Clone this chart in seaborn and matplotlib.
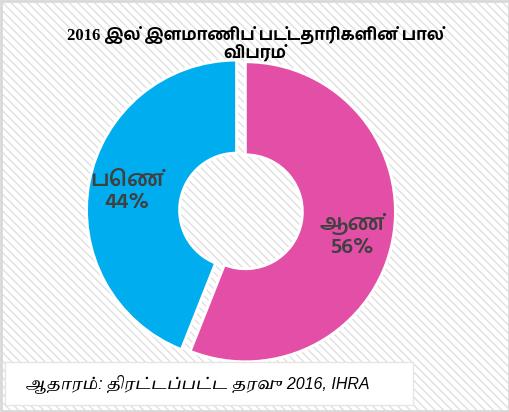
import matplotlib
matplotlib.use("Agg")
import matplotlib.pyplot as plt
from matplotlib.patches import Rectangle
import seaborn as sns

# data
labels = ["ஆண்", "பெண்"]
shares = [56, 44]
colors = ["#e34fa6", "#00aeef"]
title = "2016 இல் இளமாணிப் பட்டதாரிகளின் பால்\nவிபரம்"
source = "ஆதாரம்: திரட்டப்பட்ட தரவு 2016, IHRA"

sns.set_theme(style="white")
plt.rcParams['font.family'] = ['Hind Madurai', 'DejaVu Sans']

fig = plt.figure(figsize=(5.10, 4.12), dpi=100)

# hatched background
bg = Rectangle((0, 0), 1, 1, transform=fig.transFigure, facecolor="white",
               edgecolor="#e0e0e0", hatch="\\\\\\\\", linewidth=0, zorder=-2)
fig.patches.append(bg)
frame = Rectangle((0.002, 0.002), 0.996, 0.996, transform=fig.transFigure,
                  facecolor="none", edgecolor="#d9d9d9", linewidth=2, zorder=5)
fig.patches.append(frame)

ax = fig.add_axes([0.149, 0.0875, 0.647, 0.801])
ax.set_facecolor("none")
wedges, _ = ax.pie(shares, colors=colors, startangle=90, counterclock=False,
                   explode=[0.03, 0.03],
                   wedgeprops=dict(width=0.62, edgecolor="white", linewidth=2))
ax.set_xlim(-1.1, 1.1)
ax.set_ylim(-1.1, 1.1)
ax.axis("off")

lab_font = ['Hind Madurai', 'DejaVu Sans']
ax.text(0.74, -0.16, f"{labels[0]}\n{shares[0]}%", ha="center", va="center",
        fontsize=16, fontweight="semibold", color="#404040", linespacing=1.2,
        family=lab_font)
ax.text(-0.76, 0.13, f"{labels[1]}\n{shares[1]}%", ha="center", va="center",
        fontsize=16, fontweight="semibold", color="#404040", linespacing=1.2,
        family=lab_font)

fig.text(0.5, 0.891, title, ha="center", va="center", fontsize=12,
         fontweight="bold", color="black", linespacing=1.05,
         family=['Liberation Serif', 'Hind Madurai'])

# source box
box = Rectangle((0.01, 0.017), 0.80, 0.105, transform=fig.transFigure,
                facecolor="white", edgecolor="#e6e6e6", linewidth=1, zorder=3)
fig.patches.append(box)
fig.text(0.05, 0.07, source, ha="left", va="center", fontsize=11.5,
         style="italic", color="black", zorder=4,
         family=['Liberation Sans', 'Tiro Tamil'])

fig.savefig("out.png", dpi=100)
